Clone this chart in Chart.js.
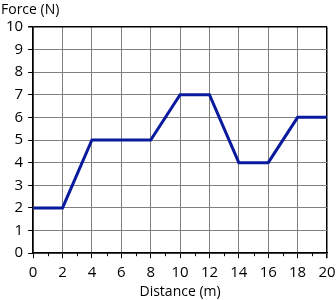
<!DOCTYPE html>
<html>
<head>
<meta charset="utf-8">
<script src="https://cdn.jsdelivr.net/npm/chart.js@4.4.1/dist/chart.umd.min.js"></script>
<style>
	html, body { margin: 0; padding: 0; background: #fff; }
	#wrap { width: 336px; height: 300px; }
</style>
</head>
<body>
<div id="wrap"><canvas id="chart-force"></canvas></div>
<script>
// distance (m) and force (N)
const distance = [0, 2, 4, 8, 10, 12, 14, 16, 18, 20]
const force = [2, 2, 5, 5, 7, 7, 4, 4, 6, 6]
const xMin = 0, xMax = 20
const yMin = 0, yMax = 10

const lineColor = '#0a1a9c'
const gridColor = '#808080'
const fontFamily = "'Open Sans', 'Noto Sans', sans-serif"

// small tick marks at the odd metres
const minorTicks = {
	id: 'minorTicks',
	afterDraw(chart) {
		const x = chart.scales.x
		const ctx = chart.ctx
		ctx.save()
		ctx.strokeStyle = '#000'
		ctx.lineWidth = 1
		for (let v = xMin + 1; v < xMax; v += 2) {
			let px = Math.round(x.getPixelForValue(v)) + 0.5
			ctx.beginPath()
			ctx.moveTo(px, x.top)
			ctx.lineTo(px, x.top + 3)
			ctx.stroke()
		}
		ctx.restore()
	}
}

new Chart(document.getElementById('chart-force').getContext('2d'), {
	type: 'line',
	data: {
		datasets: [{
			data: distance.map((d, i) => ({ x: d, y: force[i] })),
			borderColor: lineColor,
			borderWidth: 3,
			pointRadius: 0,
			tension: 0,
			fill: false
		}]
	},
	options: {
		responsive: true,
		maintainAspectRatio: false,
		animation: false,
		layout: { padding: { left: 1, right: 0, top: 0, bottom: 0 } },
		plugins: {
			legend: { display: false },
			tooltip: { enabled: false },
			title: {
				display: true,
				text: 'Force (N)',
				align: 'start',
				color: '#000',
				font: { family: fontFamily, size: 14, weight: 'normal' },
				padding: { top: 2, bottom: 8 }
			}
		},
		scales: {
			x: {
				type: 'linear',
				min: xMin,
				max: xMax,
				afterFit: scale => { scale.paddingRight = 9 },
				ticks: {
					stepSize: 2,
					color: '#000',
					maxRotation: 0,
					padding: 6,
					font: { family: fontFamily, size: 15 }
				},
				grid: {
					color: ctx => ctx.tick && ctx.tick.value === xMax ? '#000' : gridColor,
					lineWidth: ctx => ctx.tick && ctx.tick.value === xMax ? 1.5 : 1,
					tickColor: '#000',
					tickLength: 5,
					drawOnChartArea: true
				},
				border: { color: '#000', width: 1.5 },
				title: {
					display: true,
					text: 'Distance (m)',
					color: '#000',
					font: { family: fontFamily, size: 14 },
					padding: { top: -5, bottom: 0 }
				}
			},
			y: {
				min: yMin,
				max: yMax,
				ticks: {
					stepSize: 1,
					color: '#000',
					padding: 5,
					font: { family: fontFamily, size: 15 }
				},
				grid: {
					color: ctx => ctx.tick && ctx.tick.value === yMax ? '#000' : gridColor,
					lineWidth: ctx => ctx.tick && ctx.tick.value === yMax ? 1.5 : 1,
					tickColor: '#000',
					tickLength: 5
				},
				border: { color: '#000', width: 1.5 }
			}
		}
	},
	plugins: [minorTicks]
})
</script>
</body>
</html>
